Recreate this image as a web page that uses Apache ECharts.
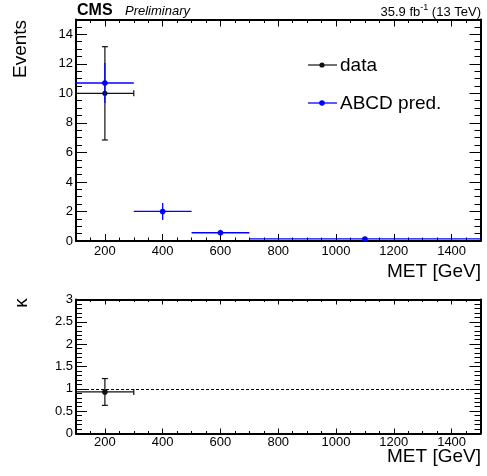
<!DOCTYPE html>
<html>
<head>
<meta charset="utf-8">
<script src="https://cdn.jsdelivr.net/npm/echarts@6/dist/echarts.min.js"></script>
<style>
html,body{margin:0;padding:0;background:#fff;}
#chart{width:487px;height:476px;}
</style>
</head>
<body>
<div id="chart"></div>
<script>
// ---- data ----
const binCenter = [200, 400, 600, 1100];
const binLow = [100, 300, 500, 700];
const binHigh = [300, 500, 700, 1500];

const dataY = [10];
const dataErrUp = [3.16];
const dataErrDown = [3.16];

const predY = [10.7, 2.0, 0.56, 0.14];
const predErrUp = [1.35, 0.58, 0.2, 0.04];
const predErrDown = [1.35, 0.58, 0.2, 0.04];

const kappaY = [0.93];
const kappaErrUp = [0.3];
const kappaErrDown = [0.3];

const xMajorTicks = [200, 400, 600, 800, 1000, 1200, 1400];
const eventsTicks = [0, 2, 4, 6, 8, 10, 12, 14];
const kappaTicks = [0, 0.5, 1, 1.5, 2, 2.5, 3];

// ---- helpers ----
function rows(n, yv, up, dn) {
  const out = [];
  for (let i = 0; i < n; i++) {
    out.push([binCenter[i], yv[i], binLow[i], binHigh[i], yv[i] - dn[i], yv[i] + up[i]]);
  }
  return out;
}

function errRender(color, caps, r, lw) {
  return function (params, api) {
    const x = api.value(0), y = api.value(1);
    const c = api.coord([x, y]);
    const pl = api.coord([api.value(2), y]);
    const pr = api.coord([api.value(3), y]);
    const pb = api.coord([x, api.value(4)]);
    const pt = api.coord([x, api.value(5)]);
    const st = { stroke: color, lineWidth: lw };
    const ch = [
      { type: 'line', shape: { x1: pl[0], y1: c[1], x2: pr[0], y2: c[1] }, style: st },
      { type: 'line', shape: { x1: c[0], y1: pt[1], x2: c[0], y2: pb[1] }, style: st }
    ];
    if (caps) {
      const k = 3;
      ch.push({ type: 'line', shape: { x1: c[0] - k, y1: pt[1], x2: c[0] + k, y2: pt[1] }, style: st });
      ch.push({ type: 'line', shape: { x1: c[0] - k, y1: pb[1], x2: c[0] + k, y2: pb[1] }, style: st });
      ch.push({ type: 'line', shape: { x1: pl[0], y1: c[1] - k, x2: pl[0], y2: c[1] + k }, style: st });
      ch.push({ type: 'line', shape: { x1: pr[0], y1: c[1] - k, x2: pr[0], y2: c[1] + k }, style: st });
    }
    ch.push({ type: 'circle', shape: { cx: c[0], cy: c[1], r: r }, style: { fill: color } });
    return { type: 'group', children: ch };
  };
}

const FONT = 'Liberation Sans, Arial, Helvetica, sans-serif';

function axis(grid, pos, min, max, opt) {
  const a = {
    gridIndex: grid, type: 'value', position: pos, min: min, max: max,
    splitLine: { show: false },
    axisLine: { show: !!opt.line, onZero: false, lineStyle: { color: '#000', width: 2 } },
    axisTick: { show: true, inside: true, length: opt.len, lineStyle: { color: '#000', width: 1 } },
    axisLabel: {
      show: !!opt.label, color: '#000', fontSize: 13, fontFamily: FONT, margin: opt.margin || 3,
      formatter: function (v) { return String(v); }
    }
  };
  if (opt.custom) {
    a.axisTick.customValues = opt.custom;
    a.axisLabel.customValues = opt.custom;
  } else {
    a.interval = opt.interval;
  }
  return a;
}

// grid geometry
const G0 = { left: 76, right: 6.5, top: 19.5, height: 221.5 };
const G1 = { left: 76, right: 6.5, top: 299.5, height: 134 };

const xAxes = [
  // top panel (grid 0): indices 0..3
  axis(0, 'bottom', 100, 1500, { line: true, label: true, custom: xMajorTicks, len: 7, margin: 4 }),
  axis(0, 'bottom', 100, 1500, { interval: 50, len: 3.5 }),
  axis(0, 'top', 100, 1500, { line: true, custom: xMajorTicks, len: 7 }),
  axis(0, 'top', 100, 1500, { interval: 50, len: 3.5 }),
  // bottom panel (grid 1): indices 4..7
  axis(1, 'bottom', 100, 1500, { line: true, label: true, custom: xMajorTicks, len: 5, margin: 2 }),
  axis(1, 'bottom', 100, 1500, { interval: 50, len: 2.5 }),
  axis(1, 'top', 100, 1500, { line: true, custom: xMajorTicks, len: 5 }),
  axis(1, 'top', 100, 1500, { interval: 50, len: 2.5 })
];
const yAxes = [
  axis(0, 'left', 0, 15, { line: true, label: true, custom: eventsTicks, len: 11 }),
  axis(0, 'left', 0, 15, { interval: 0.5, len: 6 }),
  axis(0, 'right', 0, 15, { line: true, custom: eventsTicks, len: 11 }),
  axis(0, 'right', 0, 15, { interval: 0.5, len: 6 }),
  axis(1, 'left', 0, 3, { line: true, label: true, custom: kappaTicks, len: 11 }),
  axis(1, 'left', 0, 3, { interval: 0.1, len: 6 }),
  axis(1, 'right', 0, 3, { line: true, custom: kappaTicks, len: 11 }),
  axis(1, 'right', 0, 3, { interval: 0.1, len: 6 })
];

const option = {
  backgroundColor: '#fff',
  animation: false,
  grid: [
    Object.assign({ containLabel: false }, G0),
    Object.assign({ containLabel: false }, G1)
  ],
  xAxis: xAxes,
  yAxis: yAxes,
  series: [
    {
      name: 'ABCD pred.', type: 'custom', xAxisIndex: 0, yAxisIndex: 0,
      renderItem: errRender('#0000ff', false, 2.8, 1.3),
      data: rows(predY.length, predY, predErrUp, predErrDown), z: 3
    },
    {
      name: 'data', type: 'custom', xAxisIndex: 0, yAxisIndex: 0,
      renderItem: errRender('#111', true, 2.6, 1.2),
      data: rows(dataY.length, dataY, dataErrUp, dataErrDown), z: 2
    },
    {
      name: 'kappa', type: 'custom', xAxisIndex: 4, yAxisIndex: 4,
      renderItem: errRender('#111', true, 2.8, 1.2),
      data: rows(kappaY.length, kappaY, kappaErrUp, kappaErrDown), z: 3,
      markLine: {
        silent: true, symbol: 'none', animation: false,
        label: { show: false },
        lineStyle: { color: '#000', width: 1.2, type: [3, 2] },
        data: [{ yAxis: 1 }]
      }
    }
  ],
  graphic: [
    { type: 'text', left: 77, top: 3, style: { text: 'CMS', font: 'bold 16px ' + FONT, fill: '#000' } },
    { type: 'text', left: 125, top: 5, style: { text: 'Preliminary', font: 'italic 13px ' + FONT, fill: '#000' } },
    {
      type: 'text', right: 6, top: 3,
      style: {
        text: '{a|35.9 fb}{s|-1}{a| (13 TeV)}',
        rich: {
          a: { font: '13px ' + FONT, fill: '#000', verticalAlign: 'bottom', lineHeight: 16 },
          s: { font: '9px ' + FONT, fill: '#000', verticalAlign: 'top', lineHeight: 16 }
        }
      }
    },
    { type: 'text', x: 21, y: 49, rotation: Math.PI / 2, style: { text: 'Events', font: '19px ' + FONT, fill: '#000', align: 'center', verticalAlign: 'middle' } },
    { type: 'text', x: 22, y: 303, rotation: Math.PI / 2, style: { text: 'κ', font: '19px ' + FONT, fill: '#000', align: 'center', verticalAlign: 'middle' } },
    { type: 'text', x: 481, y: 272, style: { text: 'MET [GeV]', font: '19px ' + FONT, fill: '#000', align: 'right', verticalAlign: 'middle' } },
    { type: 'text', x: 481, y: 457, style: { text: 'MET [GeV]', font: '19px ' + FONT, fill: '#000', align: 'right', verticalAlign: 'middle' } },
    // legend
    { type: 'line', shape: { x1: 308, y1: 65, x2: 337, y2: 65 }, style: { stroke: '#111', lineWidth: 1.2 } },
    { type: 'circle', shape: { cx: 322, cy: 65, r: 2.6 }, style: { fill: '#111' } },
    { type: 'text', x: 340, y: 66, style: { text: 'data', font: '19px ' + FONT, fill: '#000', verticalAlign: 'middle' } },
    { type: 'line', shape: { x1: 308, y1: 103, x2: 337, y2: 103 }, style: { stroke: '#0000ff', lineWidth: 1.3 } },
    { type: 'circle', shape: { cx: 322, cy: 103, r: 2.8 }, style: { fill: '#0000ff' } },
    { type: 'text', x: 340, y: 104, style: { text: 'ABCD pred.', font: '19px ' + FONT, fill: '#000', verticalAlign: 'middle' } }
  ]
};

const chart = echarts.init(document.getElementById('chart'), null, { renderer: 'canvas' });
chart.setOption(option);
</script>
</body>
</html>
